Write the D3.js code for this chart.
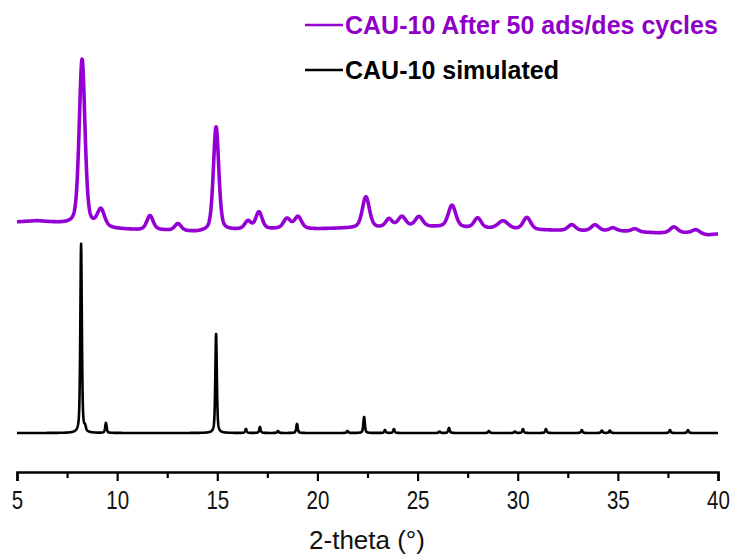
<!DOCTYPE html>
<html>
<head>
<meta charset="utf-8">
<script src="https://cdn.jsdelivr.net/npm/d3@7"></script>
<style>
  body { margin: 0; background: #fff; }
  svg { display: block; }
</style>
</head>
<body>
<div id="chart"></div>
<script>
// 2-theta range
var thetaRange = [5, 40];
var xTicks = [5, 10, 15, 20, 25, 30, 35, 40];
var xMinorTicks = [7.5, 12.5, 17.5, 22.5, 27.5, 32.5, 37.5];

// simulated pattern: peak positions (deg) and intensities (a.u.)
var simPos = [8.2, 8.4, 9.44, 14.94, 16.43, 17.13, 18.03, 18.98, 21.5, 22.33, 23.37, 23.82, 26.1, 26.57, 28.56, 29.86, 30.26, 31.41, 33.2, 34.2, 34.6, 37.6, 38.5];
var simInt = [189, 4, 10, 99, 4, 6, 2, 9, 2, 16, 3, 4, 1.5, 5, 2, 1.5, 4, 4, 3, 2.5, 2.5, 3, 3];

// measured pattern after 50 cycles: peaks on top of a drifting background
var expPos = [8.25, 9.19, 11.64, 13.04, 14.94, 16.53, 17.08, 18.48, 19.03, 22.42, 23.57, 24.22, 25.07, 26.72, 28.0, 29.27, 30.46, 32.7, 33.86, 34.75, 35.85, 37.8, 38.9];
var expInt = [166, 17, 14, 7, 104, 8, 17, 10, 12, 31, 8, 10, 10, 22, 10, 8, 12, 6, 6, 3, 3, 6, 4];
var expFwhm = [0.34, 0.42, 0.38, 0.38, 0.32, 0.38, 0.38, 0.42, 0.42, 0.42, 0.38, 0.45, 0.45, 0.45, 0.42, 0.6, 0.45, 0.45, 0.45, 0.4, 0.4, 0.45, 0.45];
var bgPos = [5, 6, 7, 8, 9, 10, 11, 12, 13, 14, 15, 16, 18, 20, 22, 23, 24, 26, 27.5, 29, 31, 33, 35, 36, 37, 38.5, 39.5, 40];
var bgInt = [211, 212, 210, 208, 206, 204, 203, 203, 202, 201, 202, 203, 204, 204, 205, 205, 206, 206, 205, 204, 203, 202, 202, 201, 200, 200, 198, 199];

var seriesNames = ["CAU-10 After 50 ads/des cycles", "CAU-10 simulated"];
var seriesColors = ["#9400d3", "#000000"];

var width = 733, height = 555;
var narrow = "scale(0.82,1)";

var svg = d3.select("#chart").append("svg")
    .attr("width", width)
    .attr("height", height);

var x = d3.scaleLinear().domain(thetaRange).range([17, 718]);
var y = d3.scaleLinear().domain([0, 400]).range([433, 33]);

function peakShape(t, pos, h, w, eta) {
  var u = (t - pos) / w;
  var g = Math.exp(-4 * Math.LN2 * u * u);
  var l = 1 / (1 + 4 * u * u);
  return h * (eta * l + (1 - eta) * g);
}

var grid = d3.range(thetaRange[0], thetaRange[1] + 0.0001, 0.01);
var bg = d3.scaleLinear().domain(bgPos).range(bgInt);

var simData = grid.map(function (t) {
  var s = 0;
  for (var i = 0; i < simPos.length; i++) s += peakShape(t, simPos[i], simInt[i], 0.09, 0.55);
  return [t, s];
});

var expData = grid.map(function (t) {
  var s = bg(t);
  for (var i = 0; i < expPos.length; i++) s += peakShape(t, expPos[i], expInt[i], expFwhm[i], 0.4);
  return [t, s];
});

var line = d3.line()
    .x(function (d) { return x(d[0]); })
    .y(function (d) { return y(d[1]); });

svg.append("path")
    .datum(simData)
    .attr("fill", "none")
    .attr("stroke", seriesColors[1])
    .attr("stroke-width", 2.6)
    .attr("stroke-linejoin", "round")
    .attr("d", line);

svg.append("path")
    .datum(expData)
    .attr("fill", "none")
    .attr("stroke", seriesColors[0])
    .attr("stroke-width", 3.6)
    .attr("stroke-linejoin", "round")
    .attr("d", line);

// x axis
var gx = svg.append("g")
    .attr("transform", "translate(0,472)")
    .call(d3.axisBottom(x).tickValues(xTicks).tickSize(9).tickSizeOuter(9).tickPadding(10));
gx.select(".domain").attr("stroke-width", 2.5);
gx.selectAll(".tick line").attr("stroke-width", 2.2);
gx.selectAll(".tick text")
    .attr("font-family", "'Liberation Sans', Arial, sans-serif")
    .attr("font-size", 25)
    .attr("fill", "#111")
    .attr("transform", narrow);

svg.append("g")
    .attr("transform", "translate(0,472)")
    .call(d3.axisBottom(x).tickValues(xMinorTicks).tickSize(6).tickFormat(""))
    .call(function (g) { g.select(".domain").remove(); })
    .selectAll(".tick line").attr("stroke-width", 2.2);

svg.append("text")
    .attr("x", 367)
    .attr("y", 549)
    .attr("text-anchor", "middle")
    .style("font-family", "'Liberation Sans', Arial, sans-serif")
    .style("font-size", "26px")
    .attr("fill", "#111")
    .text("2-theta (°)");

// legend
var legend = svg.selectAll(".legend")
    .data(seriesNames)
    .enter().append("g")
    .attr("class", "legend")
    .attr("transform", function (d, i) { return "translate(305," + (25 + i * 45) + ")"; });

legend.append("line")
    .attr("x1", 0).attr("x2", 38)
    .attr("y1", 0).attr("y2", 0)
    .attr("stroke", function (d, i) { return seriesColors[i]; })
    .attr("stroke-width", 2.6);

legend.append("text")
    .attr("x", 40)
    .attr("y", 9)
    .style("font-family", "'Liberation Sans', Arial, sans-serif")
    .style("font-weight", "bold")
    .style("font-size", "25px")
    .attr("fill", function (d, i) { return i == 0 ? "#8e00c8" : "#000"; })
    .text(function (d) { return d; });
</script>
</body>
</html>
